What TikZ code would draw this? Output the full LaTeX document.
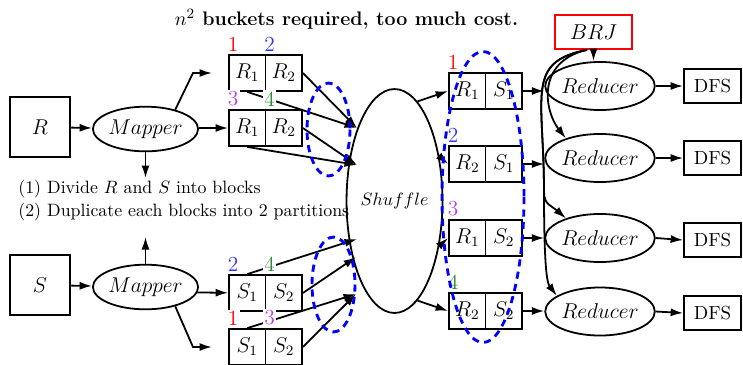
\documentclass[tikz,border=0pt]{standalone}
\usepackage{amsmath}
\usetikzlibrary{arrows.meta,shapes.geometric}
\definecolor{NumRed}{HTML}{FF0000}
\definecolor{NumBlue}{HTML}{3333FF}
\definecolor{NumViolet}{HTML}{B040F0}
\definecolor{NumGreen}{HTML}{2E8B2E}
\definecolor{GroupBlue}{HTML}{0000FF}

\begin{document}
\begin{tikzpicture}[x=0.56pt, y=-0.56pt,
  srcbox/.style={draw, line width=1pt, minimum size=34pt, inner sep=0pt, font=\large},
  mapnode/.style={ellipse, draw, line width=1pt, minimum width=54pt, minimum height=25pt,
               inner sep=0pt, font=\fontsize{13.2}{15}\selectfont},
  cell/.style={draw, line width=1pt, minimum width=20.44pt, minimum height=20.16pt,
               inner sep=0pt, font=\large},
  num/.style={anchor=south west, inner sep=0.8pt, xshift=-1.2pt, yshift=0.6pt,
               fill=white, font=\large},
  reducer/.style={ellipse, draw, line width=1pt, minimum width=53.2pt, minimum height=26.9pt,
               inner sep=0pt, font=\large},
  dfsbox/.style={draw, line width=1pt, minimum width=31.9pt, minimum height=19pt,
               inner sep=0pt, font=\fontsize{10.6}{12}\selectfont},
  link/.style={-{Latex[length=7pt,width=4.5pt]}, line width=1pt},
  group/.style={draw=GroupBlue, line width=1.6pt, dash pattern=on 4pt off 3pt}
]
\useasboundingbox (0,0) rectangle (743,364);

\node[font=\fontsize{11}{13}\selectfont\bfseries] (title) at (346.5,19)
  {$n^2$ buckets required, too much cost.};

\node[srcbox] (r) at (40,127) {$R$};
\node[srcbox] (s) at (40,285) {$S$};
\node[mapnode] (map1) at (145.5,129) {$Mapper$};
\node[mapnode] (map2) at (145.5,287) {$Mapper$};

\node[anchor=base west, inner sep=0pt] (note1)
  at (18,193) {(1) Divide $R$ and $S$ into blocks};
\node[anchor=base west, inner sep=0pt] (note2)
  at (18,216) {(2) Duplicate each blocks into 2 partitions};

\node[cell] (rb1a) at (247.25,73) {$R_1$};
\node[cell] (rb1b) at (283.75,73) {$R_2$};
\node[cell] (rb2a) at (247.25,128) {$R_1$};
\node[cell] (rb2b) at (283.75,128) {$R_2$};
\node[cell] (sb1a) at (247.25,293) {$S_1$};
\node[cell] (sb1b) at (283.75,293) {$S_2$};
\node[cell] (sb2a) at (247.25,347) {$S_1$};
\node[cell] (sb2b) at (283.75,347) {$S_2$};

\node[ellipse, draw, line width=1pt, minimum width=42pt, minimum height=125.4pt, inner sep=0pt]
  (shuffle) at (394.5,201) {$Shuffle$};

\node[cell] (rs1a) at (467.25,91) {$R_1$};
\node[cell] (rs1b) at (503.75,91) {$S_1$};
\node[cell] (rs2a) at (467.25,164) {$R_2$};
\node[cell] (rs2b) at (503.75,164) {$S_1$};
\node[cell] (rs3a) at (467.25,238) {$R_1$};
\node[cell] (rs3b) at (503.75,238) {$S_2$};
\node[cell] (rs4a) at (467.25,311) {$R_2$};
\node[cell] (rs4b) at (503.75,311) {$S_2$};

\node[draw=red, line width=1pt, minimum width=43.1pt, minimum height=19pt, font=\large]
  (brj) at (593.5,32) {$BRJ$};
\node[reducer] (red1) at (600,86) {$Reducer$};
\node[reducer] (red2) at (600,158) {$Reducer$};
\node[reducer] (red3) at (600,238) {$Reducer$};
\node[reducer] (red4) at (600,311.5) {$Reducer$};
\node[dfsbox] (dfs1) at (712.5,86) {DFS};
\node[dfsbox] (dfs2) at (712.5,158) {DFS};
\node[dfsbox] (dfs3) at (712.5,240) {DFS};
\node[dfsbox] (dfs4) at (712.5,313) {DFS};

\coordinate (bend1) at (193,73);
\coordinate (up1) at (212,73);
\coordinate (down1) at (145.5,178);
\coordinate (up2) at (145.5,237);
\coordinate (bend2) at (193,347);
\coordinate (low2) at (212,347);
\coordinate (in1) at (357,128);
\coordinate (in2) at (357,165);
\coordinate (in3) at (357,239);
\coordinate (in4) at (356,257);
\coordinate (in5) at (356,294);
\coordinate (trunk) at (544,192);

\draw[link] (r) -- (map1);
\draw[link] (s) -- (map2);
\draw[link] (map1.33) -- (bend1) -- (up1);
\draw[link] (map1.east |- rb2a.west) -- (rb2a);
\draw[link] (map1) -- (down1);
\draw[link] (map2) -- (up2);
\draw[link] (map2.-6) -- (sb1a);
\draw[link] (map2.-33) -- (bend2) -- (low2);

\draw[link] (rb1b.east) -- (in1);
\draw[link] (rb1a.south) -- (in1);
\draw[link] (rb2b.east) -- (in2);
\draw[link] (rb2a.south) -- (in2);
\draw[link] (sb1a.north) -- (in3);
\draw[link] (sb1b.east) -- (in4);
\draw[link] (sb2a.north) -- (in5);
\draw[link] (sb2b.east) -- (in5);

\draw[link] (shuffle.77) -- (rs1a.west);
\draw[link] (shuffle.45) -- (rs2a.west);
\draw[link] (shuffle.-45) -- (rs3a.west);
\draw[link] (shuffle.-77) -- (rs4a.west);

\draw[link] (rs1b.east) -- (rs1b.east -| red1.west);
\draw[link] (rs2b.east) -- (rs2b.east -| red2.west);
\draw[link] (rs3b.east) -- (rs3b.east -| red3.west);
\draw[link] (rs4b.east) -- (rs4b.east -| red4.west);
\draw[link] (red1.east) -- (red1.east -| dfs1.west);
\draw[link] (red2.east) -- (red2.east -| dfs2.west);
\draw[link] (red3.east) -- (dfs3.west);
\draw[link] (red4.east) -- (dfs4.west);

\draw[link] (brj.south) -- (brj.south |- red1.north);
\draw[link] (brj.250) .. controls (535,62) and (545,112) .. (red2.150);
\draw[link] (brj.250) .. controls (525,62) and (544,95) .. (trunk)
  .. controls (544,205) and (552,206) .. (red3.150);
\draw[link] (brj.250) .. controls (525,62) and (544,95) .. (trunk)
  .. controls (544,278) and (548,284) .. (red4.160);

\node[num, text=NumRed] (lab1) at (rb1a.north west) {1};
\node[num, text=NumBlue] (lab2) at (rb1b.north west) {2};
\node[num, text=NumViolet] (lab3) at (rb2a.north west) {3};
\node[num, text=NumGreen] (lab4) at (rb2b.north west) {4};
\node[num, text=NumBlue] (lab5) at (sb1a.north west) {2};
\node[num, text=NumGreen] (lab6) at (sb1b.north west) {4};
\node[num, text=NumRed] (lab7) at (sb2a.north west) {1};
\node[num, text=NumViolet] (lab8) at (sb2b.north west) {3};
\node[num, text=NumRed] (lab9) at (rs1a.north west) {1};
\node[num, text=NumBlue] (lab10) at (rs2a.north west) {2};
\node[num, text=NumViolet] (lab11) at (rs3a.north west) {3};
\node[num, text=NumGreen] (lab12) at (rs4a.north west) {4};

\draw[group] (328.5,129.5) ellipse [x radius=21.5, y radius=46.5];
\draw[group] (333.5,284.5) ellipse [x radius=21.5, y radius=47.5];
\draw[group] (483,197) ellipse [x radius=41, y radius=145.5];
\end{tikzpicture}
\end{document}
